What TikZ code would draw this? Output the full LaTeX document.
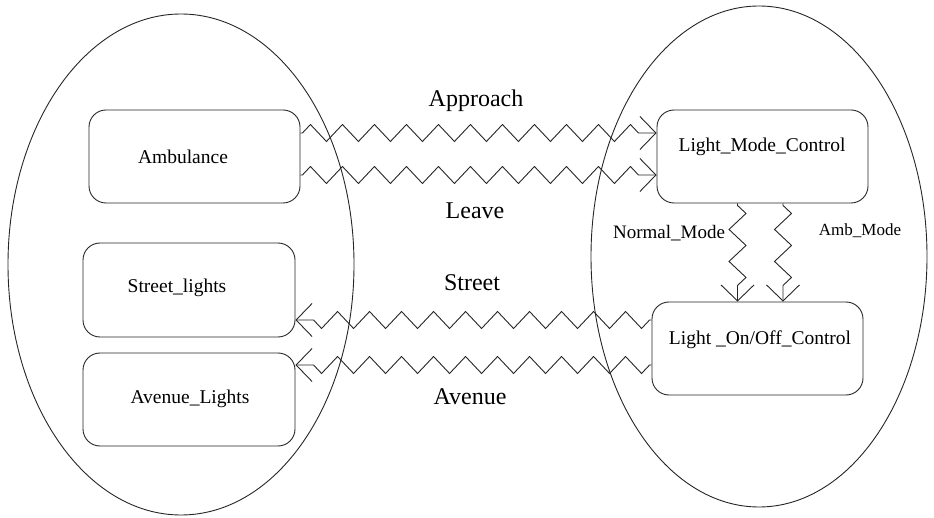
\documentclass[tikz,border=0pt]{standalone}
\usepackage{fontspec}
\setmainfont{Liberation Serif}
\usetikzlibrary{shapes.geometric,decorations.pathmorphing,arrows.meta}

\tikzset{
  ink/.style={draw=black!85, line width=0.9pt},
  system/.style={ink, ellipse, inner sep=0pt},
  unit/.style={ink, rounded corners=17pt, inner sep=0pt},
  unitlabel/.style={font=\fontsize{19.5}{23}\selectfont, inner sep=0pt},
  msglabel/.style={font=\fontsize{24}{28}\selectfont, inner sep=0pt},
  modelabel/.style={font=\fontsize{19}{22}\selectfont, inner sep=0pt},
  signal/.style={ink, decorate,
    decoration={zigzag, segment length=32pt, amplitude=8.5pt,
                pre length=2pt, post length=12pt},
    -{Straight Barb[length=16pt, width=33pt]}},
}

\begin{document}
\begin{tikzpicture}[x=1pt, y=-1pt]
  \useasboundingbox (0,0) rectangle (934,518);

  % the two subsystems
  \node[system, minimum width=346pt, minimum height=501pt] (leftsys)  at (181,264.5) {};
  \node[system, minimum width=336pt, minimum height=501pt] (rightsys) at (759,256.5) {};

  % units of the left subsystem
  \node[unit, minimum width=211pt, minimum height=93pt] (amb)    at (194.5,156.5) {};
  \node[unit, minimum width=212pt, minimum height=94pt] (street) at (189,290) {};
  \node[unit, minimum width=212pt, minimum height=93pt] (avenue) at (189,399.5) {};

  % units of the right subsystem
  \node[unit, minimum width=211pt, minimum height=93pt] (lmc)   at (762.5,156.5) {};
  \node[unit, minimum width=211pt, minimum height=93pt] (onoff) at (757.5,348.5) {};

  % unit names
  \node[unitlabel] (ambtext)    at (183,157) {Ambulance};
  \node[unitlabel] (streettext) at (177,288) {Street\_lights};
  \node[unitlabel] (avenuetext) at (190,399) {Avenue\_Lights};
  \node[unitlabel] (lmctext)    at (762,147) {Light\_Mode\_Control};
  \node[unitlabel] (onofftext)  at (760,340) {Light \_On/Off\_Control};

  % signals between the units
  \draw[signal] ([yshift=23.5pt]amb.east) -- ([yshift=23.5pt]amb.east -| lmc.west);
  \draw[signal] ([yshift=-18.5pt]amb.east) -- ([yshift=-18.5pt]amb.east -| lmc.west);
  \draw[signal] ([yshift=28.5pt]onoff.west) -- ([yshift=28.5pt]onoff.west -| street.east);
  \draw[signal] ([yshift=-16.5pt]onoff.west) -- ([yshift=-16.5pt]onoff.west -| avenue.east);
  \draw[signal] ([xshift=-25pt]lmc.south) -- ([xshift=-25pt]lmc.south |- onoff.north);
  \draw[signal] ([xshift=20.5pt]lmc.south) -- ([xshift=20.5pt]lmc.south |- onoff.north);

  % signal names
  \node[msglabel] (approach) at (476,101) {Approach};
  \node[msglabel] (leave)    at (475,211) {Leave};
  \node[msglabel] (streetm)  at (472,283) {Street};
  \node[msglabel] (avenuem)  at (470,397) {Avenue};
  \node[modelabel] (normal)  at (669,233) {Normal\_Mode};
  \node[modelabel, font=\fontsize{17}{20}\selectfont] (ambmode) at (860,231) {Amb\_Mode};
\end{tikzpicture}
\end{document}
